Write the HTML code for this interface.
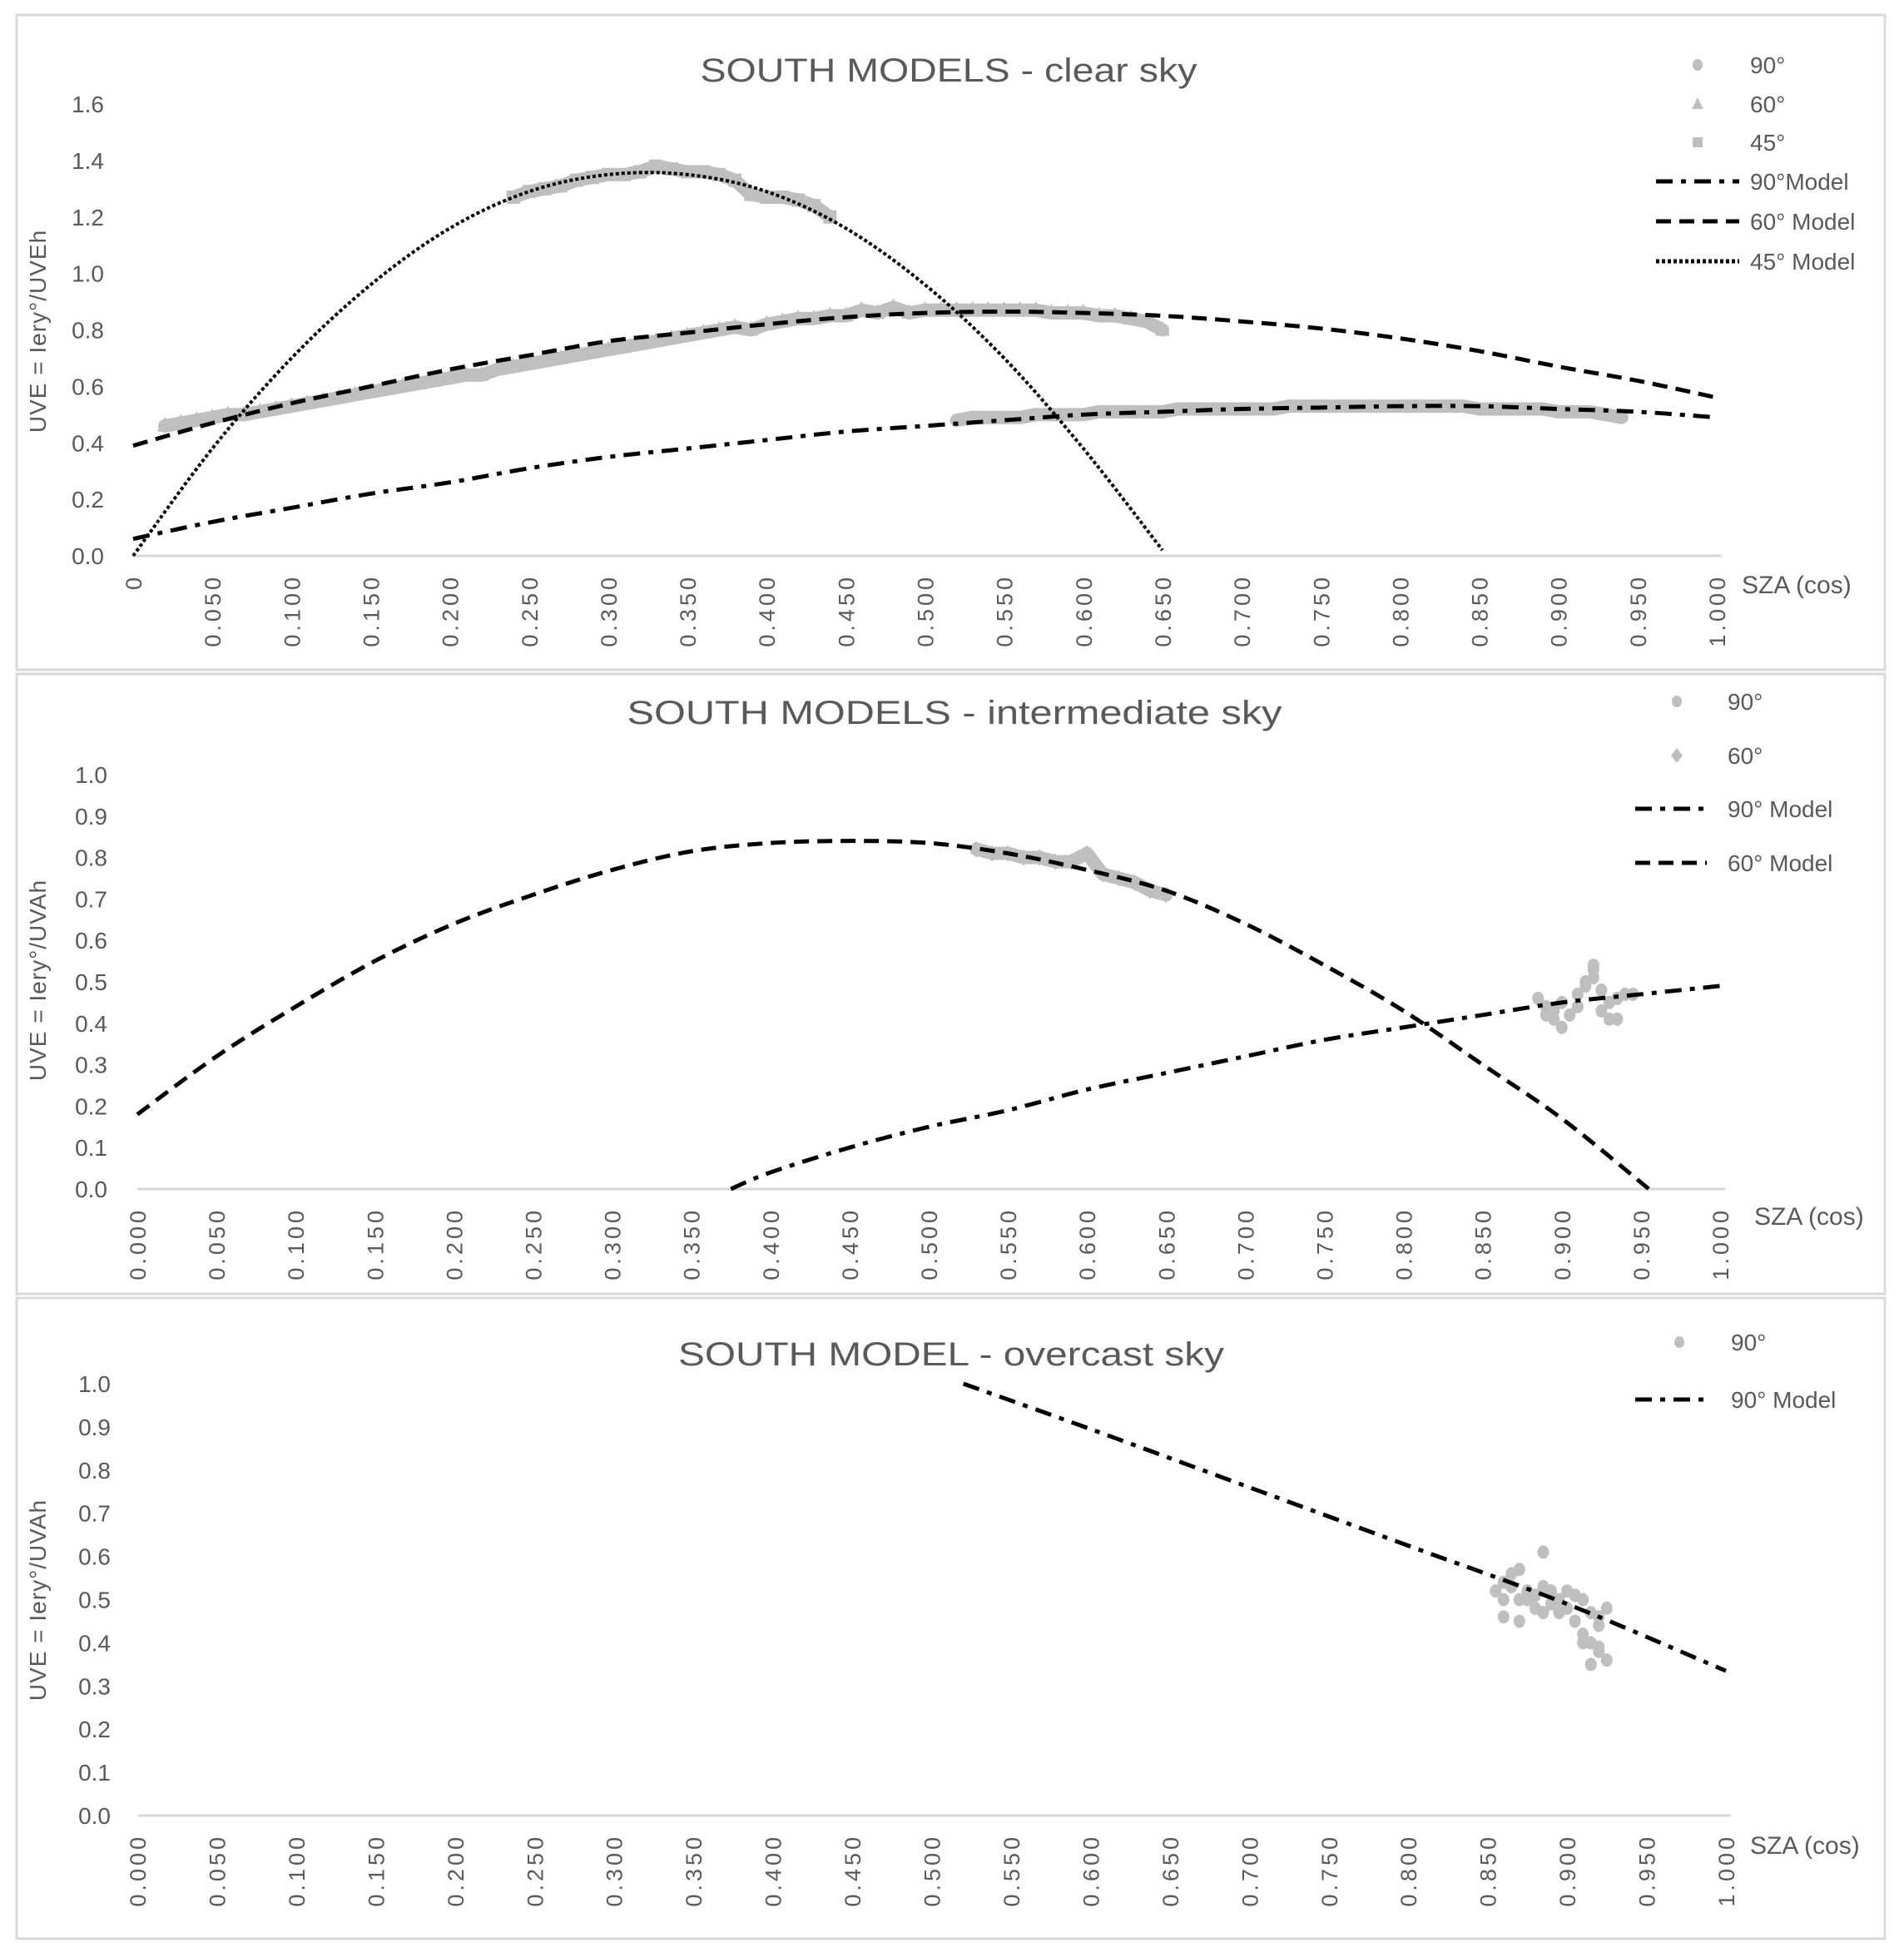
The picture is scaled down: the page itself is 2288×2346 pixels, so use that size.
<!DOCTYPE html>
<html><head><meta charset="utf-8">
<style>
html,body{margin:0;padding:0;background:#fff;}
svg{display:block;font-family:"Liberation Sans",sans-serif;}
</style></head>
<body>
<svg id="fig" width="2288" height="2346" viewBox="0 0 2288 2346" xmlns="http://www.w3.org/2000/svg"></svg>
<script>
// ---------- DATA ----------
const xTicks = [0,0.05,0.1,0.15,0.2,0.25,0.3,0.35,0.4,0.45,0.5,0.55,0.6,0.65,0.7,0.75,0.8,0.85,0.9,0.95,1.0];
const xTickLabels1 = ["0","0.050","0.100","0.150","0.200","0.250","0.300","0.350","0.400","0.450","0.500","0.550","0.600","0.650","0.700","0.750","0.800","0.850","0.900","0.950","1.000"];
const xTickLabels23 = ["0.000","0.050","0.100","0.150","0.200","0.250","0.300","0.350","0.400","0.450","0.500","0.550","0.600","0.650","0.700","0.750","0.800","0.850","0.900","0.950","1.000"];
const yTicks1 = [0,0.2,0.4,0.6,0.8,1.0,1.2,1.4,1.6];
const yTickLabels1 = ["0.0","0.2","0.4","0.6","0.8","1.0","1.2","1.4","1.6"];
const yTicks23 = [0,0.1,0.2,0.3,0.4,0.5,0.6,0.7,0.8,0.9,1.0];
const yTickLabels23 = ["0.0","0.1","0.2","0.3","0.4","0.5","0.6","0.7","0.8","0.9","1.0"];

// Panel 1 - clear sky
const p1Model45X = [0,0.05,0.1,0.15,0.2,0.25,0.3,0.35,0.4,0.45,0.5,0.55,0.6,0.65];
const p1Model45Y = [0.0,0.38,0.70,0.96,1.16,1.29,1.35,1.35,1.29,1.16,0.96,0.70,0.38,0.02];
const p1Model60X = [0,0.05,0.1,0.15,0.2,0.25,0.3,0.35,0.4,0.45,0.5,0.55,0.6,0.65,0.7,0.75,0.8,0.85,0.9,0.95,1.0];
const p1Model60Y = [0.39,0.47,0.54,0.60,0.66,0.71,0.76,0.79,0.82,0.845,0.86,0.865,0.86,0.85,0.83,0.805,0.77,0.725,0.67,0.62,0.56];
const p1Model90X = [0,0.05,0.1,0.15,0.2,0.25,0.3,0.35,0.4,0.45,0.5,0.55,0.6,0.65,0.7,0.75,0.8,0.85,0.9,0.95,1.0];
const p1Model90Y = [0.06,0.12,0.17,0.22,0.26,0.31,0.35,0.38,0.41,0.44,0.46,0.48,0.50,0.51,0.52,0.525,0.53,0.53,0.52,0.51,0.49];
const p1S45X0 = 0.24, p1Step = 0.01;
const p1S45Y = [1.27,1.29,1.30,1.31,1.33,1.34,1.35,1.35,1.36,1.38,1.37,1.36,1.36,1.35,1.33,1.28,1.27,1.27,1.26,1.24,1.20];
const p1S60X0 = 0.02;
const p1S60Y = [0.46,0.47,0.48,0.49,0.50,0.50,0.51,0.52,0.53,0.54,
 0.55,0.56,0.57,0.58,0.59,0.60,0.61,0.62,0.63,0.64,
 0.64,0.66,0.67,0.68,0.69,0.70,0.71,0.72,0.73,0.74,
 0.75,0.76,0.77,0.78,0.79,0.80,0.81,0.80,0.82,0.83,
 0.84,0.84,0.85,0.85,0.87,0.86,0.88,0.86,0.87,0.87,
 0.87,0.87,0.87,0.87,0.87,0.87,0.86,0.86,0.86,0.85,
 0.85,0.84,0.83,0.80];
const p1S90X0 = 0.52;
const p1S90Y = [0.48,0.49,0.49,0.49,0.49,0.50,0.50,0.50,0.50,0.51,0.51,0.51,0.51,0.51,0.52,0.52,0.52,0.52,0.52,0.52,0.52,0.53,0.53,0.53,0.53,0.53,0.53,0.53,0.53,0.53,0.53,0.53,0.53,0.52,0.52,0.52,0.52,0.52,0.51,0.51,0.51,0.50,0.49];

// Panel 2 - intermediate sky
const p2Model60X = [0,0.05,0.1,0.15,0.2,0.25,0.3,0.35,0.4,0.45,0.5,0.55,0.6,0.65,0.7,0.75,0.8,0.85,0.9,0.955];
const p2Model60Y = [0.18,0.32,0.44,0.55,0.64,0.71,0.77,0.815,0.835,0.84,0.835,0.81,0.77,0.72,0.64,0.54,0.43,0.30,0.17,0.0];
const p2Model90X = [0.375,0.4,0.45,0.5,0.55,0.6,0.65,0.7,0.75,0.8,0.85,0.9,0.95,1.0];
const p2Model90Y = [0.0,0.04,0.10,0.15,0.19,0.24,0.28,0.32,0.36,0.39,0.42,0.45,0.47,0.49];
const p2S60X0 = 0.53;
const p2S60Y = [0.82,0.81,0.81,0.80,0.80,0.79,0.79,0.81,0.76,0.75,0.74,0.72,0.71];
const p2S90X = [0.885,0.89,0.895,0.90,0.905,0.91,0.915,0.92,0.925,0.93,0.935,0.94,0.945,0.89,0.90,0.91,0.92,0.93,0.895,0.915,0.92,0.925,0.935];
const p2S90Y = [0.46,0.44,0.41,0.45,0.42,0.47,0.50,0.53,0.48,0.45,0.46,0.47,0.47,0.42,0.39,0.44,0.51,0.41,0.43,0.49,0.54,0.43,0.41];

// Panel 3 - overcast sky
const p3Model90X = [0.52,0.6,0.7,0.8,0.9,1.0];
const p3Model90Y = [1.0,0.895,0.76,0.625,0.49,0.335];
const p3S90X = [0.855,0.86,0.86,0.865,0.87,0.87,0.875,0.88,0.88,0.885,0.885,0.89,0.89,0.895,0.90,0.90,0.905,0.905,0.91,0.91,0.915,0.915,0.92,0.92,0.925,0.925,0.86,0.87,0.875,0.885,0.895,0.91,0.915,0.92,0.92,0.865];
const p3S90Y = [0.52,0.50,0.46,0.53,0.57,0.50,0.52,0.51,0.48,0.61,0.53,0.52,0.49,0.47,0.52,0.48,0.51,0.45,0.50,0.42,0.40,0.47,0.38,0.44,0.48,0.36,0.54,0.45,0.50,0.47,0.50,0.40,0.35,0.39,0.46,0.56];

// ---------- DRAW ----------
const NS = "http://www.w3.org/2000/svg";
const svg = document.getElementById('fig');
const GRAY = "#595959", MARK = "#bfbfbf";
function mk(tag, attrs, parent){
  const e = document.createElementNS(NS, tag);
  for (const k in attrs) e.setAttribute(k, attrs[k]);
  (parent||svg).appendChild(e);
  return e;
}
const DASH = {d90:"20,10,6,10", d60:"18,10", d45:"4,3"};

// smooth path (Catmull-Rom -> cubic bezier) through screen points
function smoothPath(p){
  let d = `M${p[0][0]},${p[0][1]}`;
  for (let i=0;i<p.length-1;i++){
    const p0 = p[i-1]||p[i], p1 = p[i], p2 = p[i+1], p3 = p[i+2]||p2;
    const c1 = [p1[0]+(p2[0]-p0[0])/6, p1[1]+(p2[1]-p0[1])/6];
    const c2 = [p2[0]-(p3[0]-p1[0])/6, p2[1]-(p3[1]-p1[1])/6];
    d += ` C${c1[0]},${c1[1]} ${c2[0]},${c2[1]} ${p2[0]},${p2[1]}`;
  }
  return d;
}

function panel(cfg){
  const g = mk('g', {});
  
  
  const sx = v => cfg.x0 + v*(cfg.x1-cfg.x0);
  const sy = v => cfg.y0 - v/cfg.ymax*(cfg.y0-cfg.yTop);
  const fr = mk('rect', {x:cfg.fx, y:cfg.fy, width:cfg.fw, height:cfg.fh, fill:'none', stroke:'#d9d9d9', 'stroke-width':3}, g);
  
  
  const t = mk('text', {x:cfg.tx, y:cfg.ty, 'text-anchor':'middle', 'font-size':40, fill:GRAY, textLength:cfg.tl, lengthAdjust:'spacingAndGlyphs'}, g);
  t.textContent = cfg.title;
  
  
  const ax = mk('line', {x1:cfg.x0, x2:cfg.x1+6, y1:cfg.y0, y2:cfg.y0, stroke:'#d9d9d9', 'stroke-width':3}, g);
  
  
  cfg.yt.forEach((v,i)=>{
    const e = mk('text', {x:cfg.ylx, y:sy(v)+10, 'text-anchor':'end', 'font-size':28, fill:GRAY}, g);
    e.textContent = cfg.ytl[i];
    
    
  });
  xTicks.forEach((v,i)=>{
    const x = sx(v)+10, y = cfg.y0+22;
    const e = mk('text', {x:x, y:y, transform:`rotate(-90 ${x} ${y})`, 'text-anchor':'end', 'font-size':27, fill:GRAY, 'letter-spacing':4}, g);
    e.textContent = cfg.xtl[i];
    
    
  });
  const xt = mk('text', {x:cfg.szx, y:cfg.szy, 'font-size':30, fill:GRAY}, g);
  xt.textContent = "SZA (cos)";
  
  
  const yt = mk('text', {x:55, y:cfg.ytc, transform:`rotate(-90 55 ${cfg.ytc})`, 'text-anchor':'middle', 'font-size':28, fill:GRAY, 'letter-spacing':1}, g);
  yt.textContent = cfg.ytitle;
  
  
  cfg.scatter.forEach(s=>{
    const sg = mk('g', {}, g);
    
    
    if (s.band){
      const pts = s.xs.map((x,i)=>sx(x)+','+sy(s.ys[i])).join(' ');
      const pl = mk('polyline', {points:pts, fill:'none', stroke:MARK, 'stroke-width':16, 'stroke-linejoin':'round', 'stroke-linecap':'round'}, sg);
      
      
    }
    s.xs.forEach((x,i)=>{
      const px = sx(x), py = sy(s.ys[i]);
      let m;
      if (s.shape==='tri') m = mk('polygon', {points:`${px},${py-11} ${px-9},${py+7} ${px+9},${py+7}`, fill:MARK}, sg);
      else if (s.shape==='sq') m = mk('rect', {x:px-8, y:py-8, width:16, height:16, fill:MARK}, sg);
      else if (s.shape==='dia') m = mk('polygon', {points:`${px},${py-10} ${px+8},${py} ${px},${py+10} ${px-8},${py}`, fill:MARK}, sg);
      else m = mk('ellipse', {cx:px, cy:py, rx:7, ry:8, fill:MARK}, sg);
      
      
    });
  });
  cfg.lines.forEach(l=>{
    const pts = l.xs.map((x,i)=>[sx(x), sy(l.ys[i])]);
    const pl = mk('path', {d:smoothPath(pts), fill:'none', stroke:'#000', 'stroke-width':l.dash==='d45'?4:5, 'stroke-dasharray':DASH[l.dash]}, g);
    
    
  });
  const lg = mk('g', {}, g);
  
  
  cfg.legend.forEach((it,i)=>{
    const y = cfg.legRows[i];
    const eg = mk('g', {}, lg);
    
    
    if (it.shape){
      const px = cfg.legMark, py = y;
      if (it.shape==='tri') mk('polygon', {points:`${px},${py-8} ${px-7},${py+6} ${px+7},${py+6}`, fill:MARK}, eg);
      else if (it.shape==='sq') mk('rect', {x:px-6, y:py-6, width:12, height:12, fill:MARK}, eg);
      else if (it.shape==='dia') mk('polygon', {points:`${px},${py-9} ${px+7},${py} ${px},${py+9} ${px-7},${py}`, fill:MARK}, eg);
      else mk('ellipse', {cx:px, cy:py, rx:6, ry:7, fill:MARK}, eg);
    } else {
      mk('line', {x1:cfg.legL1, x2:cfg.legL2, y1:y, y2:y, stroke:'#000', 'stroke-width':5, 'stroke-dasharray':DASH[it.dash]}, eg);
    }
    const tx = mk('text', {x:cfg.legText, y:y+10, 'font-size':28, fill:GRAY}, eg);
    tx.textContent = it.label;
  });
}

const seq = (x0, n) => Array.from({length:n}, (_,i)=>+(x0 + i*p1Step).toFixed(3));

panel({name:'panel-clear-sky', fx:20, fy:18, fw:2245, fh:787, x0:160, x1:2063, y0:668, yTop:125, ymax:1.6,
  title:"SOUTH MODELS - clear sky", tx:1140, ty:98, tl:597, ylx:125, yt:yTicks1, ytl:yTickLabels1, xtl:xTickLabels1,
  szx:2093, szy:713, ytc:398, ytitle:"UVE = Iery°/UVEh",
  scatter:[
    {name:'series-60-points', shape:'tri', band:true, xs:seq(p1S60X0, p1S60Y.length), ys:p1S60Y},
    {name:'series-45-points', shape:'sq', band:true, xs:seq(p1S45X0, p1S45Y.length), ys:p1S45Y},
    {name:'series-90-points', shape:'circ', band:true, xs:seq(p1S90X0, p1S90Y.length), ys:p1S90Y}],
  lines:[
    {name:'model-45-line', xs:p1Model45X, ys:p1Model45Y, dash:'d45'},
    {name:'model-60-line', xs:p1Model60X, ys:p1Model60Y, dash:'d60'},
    {name:'model-90-line', xs:p1Model90X, ys:p1Model90Y, dash:'d90'}],
  legend:[{label:"90°",shape:'circ'},{label:"60°",shape:'tri'},{label:"45°",shape:'sq'},
    {label:"90°Model",dash:'d90'},{label:"60° Model",dash:'d60'},{label:"45° Model",dash:'d45'}],
  legRows:[78,125,171,218,266,314], legMark:2040, legText:2103, legL1:1990, legL2:2090});

panel({name:'panel-intermediate-sky', fx:20, fy:810, fw:2245, fh:745, x0:165, x1:2067, y0:1429, yTop:931, ymax:1.0,
  title:"SOUTH MODELS - intermediate sky", tx:1147, ty:870, tl:787, ylx:129, yt:yTicks23, ytl:yTickLabels23, xtl:xTickLabels23,
  szx:2108, szy:1472, ytc:1178, ytitle:"UVE = Iery°/UVAh",
  scatter:[
    {name:'series-60-points', shape:'dia', band:true, xs:seq(p2S60X0, p2S60Y.length), ys:p2S60Y},
    {name:'series-90-points', shape:'circ', band:false, xs:p2S90X, ys:p2S90Y}],
  lines:[
    {name:'model-60-line', xs:p2Model60X, ys:p2Model60Y, dash:'d60'},
    {name:'model-90-line', xs:p2Model90X, ys:p2Model90Y, dash:'d90'}],
  legend:[{label:"90°",shape:'circ'},{label:"60°",shape:'dia'},{label:"90° Model",dash:'d90'},{label:"60° Model",dash:'d60'}],
  legRows:[843,908,972,1037], legMark:2015, legText:2076, legL1:1965, legL2:2051});

panel({name:'panel-overcast-sky', fx:20, fy:1560, fw:2245, fh:770, x0:165, x1:2074, y0:2182, yTop:1663, ymax:1.0,
  title:"SOUTH MODEL - overcast sky", tx:1143, ty:1641, tl:656, ylx:133, yt:yTicks23, ytl:yTickLabels23, xtl:xTickLabels23,
  szx:2103, szy:2228, ytc:1923, ytitle:"UVE = Iery°/UVAh",
  scatter:[{name:'series-90-points', shape:'circ', band:false, xs:p3S90X, ys:p3S90Y}],
  lines:[{name:'model-90-line', xs:p3Model90X, ys:p3Model90Y, dash:'d90'}],
  legend:[{label:"90°",shape:'circ'},{label:"90° Model",dash:'d90'}],
  legRows:[1613,1682], legMark:2018, legText:2080, legL1:1965, legL2:2055});
</script>
</body></html>
